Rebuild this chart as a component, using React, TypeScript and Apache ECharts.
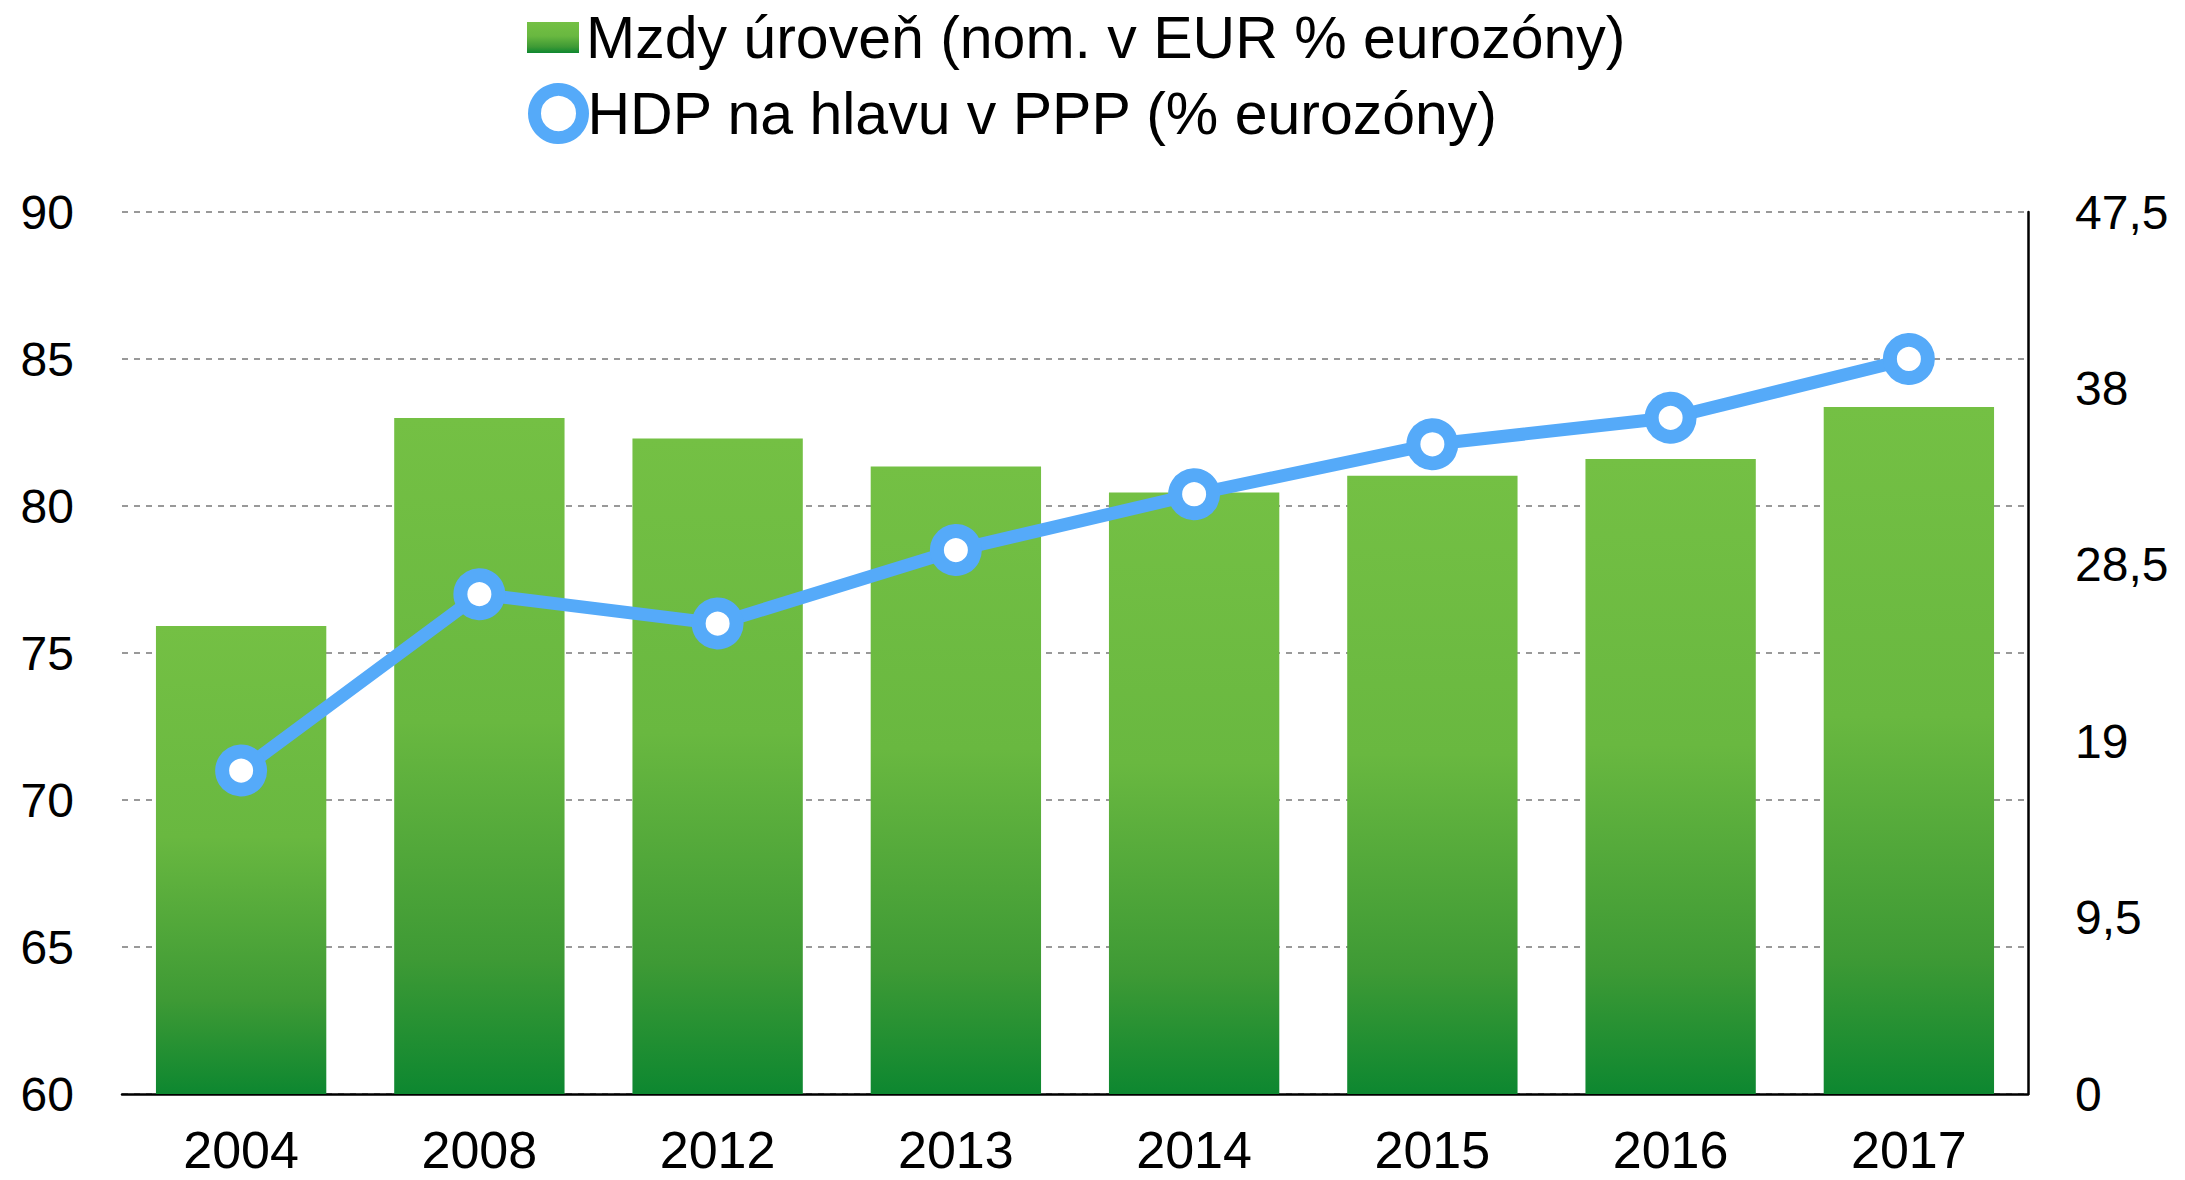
import React, { useEffect, useRef } from "react";
import * as echarts from "echarts";

const categories = ["2004", "2008", "2012", "2013", "2014", "2015", "2016", "2017"];
const wageLevel = [25.2, 36.4, 35.3, 33.8, 32.4, 33.3, 34.2, 37.0];
const gdpPerCapita = [71.0, 77.0, 76.0, 78.5, 80.4, 82.1, 83.0, 85.0];
const wageName = "Mzdy úroveň (nom. v EUR % eurozóny)";
const gdpName = "HDP na hlavu v PPP (% eurozóny)";

const FONT = "'Liberation Sans', Arial, sans-serif";
const BLUE = "#55AAF9";

export default function App() {
  const ref = useRef<HTMLDivElement>(null);
  useEffect(() => {
    if (!ref.current) return;
    const chart = echarts.init(ref.current, null, { renderer: "svg" });
    const barGradient = new echarts.graphic.LinearGradient(0, 0, 0, 1, [
      { offset: 0, color: "#74C044" },
      { offset: 0.45, color: "#69B840" },
      { offset: 0.8, color: "#3E9A35" },
      { offset: 1, color: "#0D8730" },
    ]);
    chart.setOption({
      animation: false,
      backgroundColor: "#ffffff",
      textStyle: { fontFamily: FONT, color: "#000" },
      legend: [
        {
          left: 527,
          top: 8,
          padding: 0,
          itemWidth: 52,
          itemHeight: 31,
          data: [{ name: wageName, icon: "rect" }],
          textStyle: { fontSize: 59, fontFamily: FONT, color: "#000", padding: [0, 0, 0, 2] },
        },
        {
          left: 528,
          top: 83,
          padding: 0,
          itemWidth: 48,
          itemHeight: 48,
          data: [
            {
              name: gdpName,
              icon: "circle",
              itemStyle: { color: "#fff", borderColor: BLUE, borderWidth: 13 },
            },
          ],
          textStyle: { fontSize: 59, fontFamily: FONT, color: "#000", padding: [0, 0, 0, 0] },
        },
      ],
      grid: { left: 122, right: 157, top: 212, bottom: 86, containLabel: false },
      xAxis: {
        type: "category",
        data: categories,
        axisTick: { show: false },
        axisLine: { show: true, lineStyle: { color: "#000", width: 2.5 } },
        axisLabel: {
          fontSize: 52,
          lineHeight: 52,
          fontFamily: FONT,
          color: "#000",
          margin: 30,
        },
      },
      yAxis: [
        {
          type: "value",
          min: 60,
          max: 90,
          interval: 5,
          axisLine: { show: false },
          axisTick: { show: false },
          axisLabel: { fontSize: 48, fontFamily: FONT, color: "#000", margin: 48 },
          splitLine: { show: true, lineStyle: { color: "#999", width: 2, type: [6, 6] } },
        },
        {
          type: "value",
          min: 0,
          max: 47.5,
          interval: 9.5,
          position: "right",
          axisLine: { show: true, lineStyle: { color: "#000", width: 2.5 } },
          axisTick: { show: false },
          splitLine: { show: false },
          axisLabel: {
            fontSize: 48,
            fontFamily: FONT,
            color: "#000",
            margin: 47,
            formatter: (v: number) => String(v).replace(".", ","),
          },
        },
      ],
      series: [
        {
          name: wageName,
          type: "bar",
          yAxisIndex: 1,
          data: wageLevel,
          barWidth: "71.5%",
          itemStyle: { color: barGradient },
        },
        {
          name: gdpName,
          type: "line",
          yAxisIndex: 0,
          data: gdpPerCapita,
          symbol: "circle",
          symbolSize: 38,
          lineStyle: { color: BLUE, width: 13 },
          itemStyle: { color: "#fff", borderColor: BLUE, borderWidth: 14 },
          z: 5,
        },
      ],
    });
    return () => chart.dispose();
  }, []);
  return (
    <div
      ref={ref}
      style={{ position: "fixed", left: 0, top: 0, width: 2185, height: 1180 }}
    />
  );
}
